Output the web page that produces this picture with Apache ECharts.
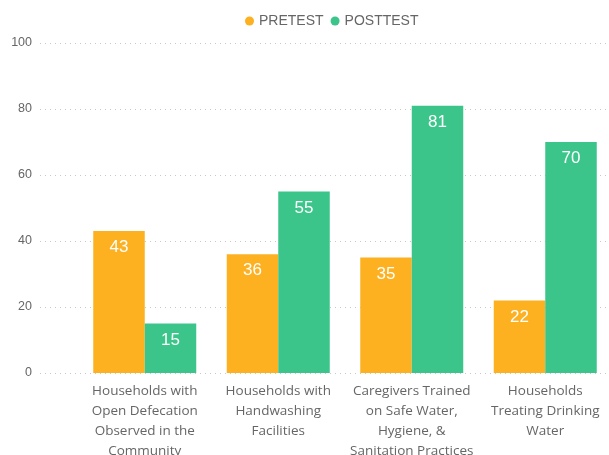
<!DOCTYPE html>
<html>
<head>
<meta charset="utf-8">
<script src="https://cdn.jsdelivr.net/npm/echarts@6/dist/echarts.min.js"></script>
<style>
  html, body { margin: 0; padding: 0; background: #fff; }
  #chart { width: 609px; height: 455px; }
</style>
</head>
<body>
<div id="chart"></div>
<script>
// categories (line breaks as wrapped in the original)
var categories = [
  'Households with\nOpen Defecation\nObserved in the\nCommunity',
  'Households with\nHandwashing\nFacilities',
  'Caregivers Trained\non Safe Water,\nHygiene, &\nSanitation Practices',
  'Households\nTreating Drinking\nWater'
];
var pretest = [43, 36, 35, 22];
var posttest = [15, 55, 81, 70];
var yTicks = [0, 20, 40, 60, 80, 100];

var chart = echarts.init(document.getElementById('chart'));

var labelStyle = {
  show: true,
  position: 'insideTop',
  distance: 8,
  color: '#fff',
  fontSize: 17,
  fontFamily: 'Liberation Sans'
};

chart.setOption({
  animation: false,
  legend: {
    top: 9,
    left: 240,
    icon: 'circle',
    itemWidth: 9,
    itemHeight: 9,
    itemGap: 7,
    textStyle: { color: '#666', fontSize: 14, fontFamily: 'Liberation Sans' },
    data: ['PRETEST', 'POSTTEST']
  },
  grid: [
    // background grid: only the dotted lines and y labels
    { left: 40, right: 0, top: 43, bottom: 82, outerBoundsMode: 'none' },
    // bars
    { left: 78, right: -3, top: 43, bottom: 82, outerBoundsMode: 'none' }
  ],
  xAxis: [
    { type: 'category', gridIndex: 0, data: [''], show: false },
    {
      type: 'category',
      gridIndex: 1,
      data: categories,
      axisLine: { show: false },
      axisTick: { show: false },
      axisLabel: {
        color: '#666',
        fontSize: 13.5,
        lineHeight: 20,
        margin: 8,
        interval: 0,
        fontFamily: 'Open Sans'
      }
    }
  ],
  yAxis: [
    {
      type: 'value',
      gridIndex: 0,
      min: yTicks[0],
      max: yTicks[yTicks.length - 1],
      interval: 20,
      axisLine: { show: false },
      axisTick: { show: false },
      axisLabel: { color: '#666', fontSize: 12.5, margin: 8, fontFamily: 'Liberation Sans' },
      splitLine: { lineStyle: { color: '#c8c8c8', type: [1, 4], width: 1 } }
    },
    {
      type: 'value',
      gridIndex: 1,
      min: yTicks[0],
      max: yTicks[yTicks.length - 1],
      interval: 20,
      show: false,
      splitLine: { show: false }
    }
  ],
  series: [
    {
      name: 'PRETEST',
      type: 'bar',
      xAxisIndex: 1,
      yAxisIndex: 1,
      data: pretest,
      barWidth: 51.5,
      barGap: '0%',
      itemStyle: { color: '#FDB020' },
      label: labelStyle
    },
    {
      name: 'POSTTEST',
      type: 'bar',
      xAxisIndex: 1,
      yAxisIndex: 1,
      data: posttest,
      barWidth: 51.5,
      barGap: '0%',
      itemStyle: { color: '#3CC58A' },
      label: labelStyle
    }
  ]
});
</script>
</body>
</html>
